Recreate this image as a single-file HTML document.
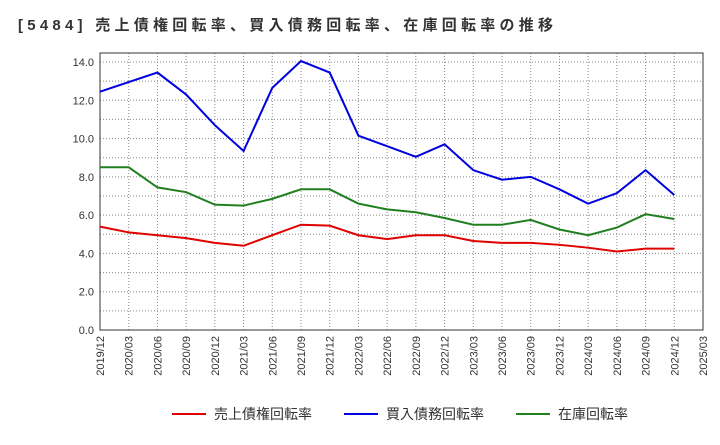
<!DOCTYPE html>
<html><head><meta charset="utf-8"><style>
body{margin:0;background:#fff;font-family:"Liberation Sans","Noto Sans CJK JP",sans-serif}
</style></head><body>
<svg id="c" width="720" height="440" xmlns="http://www.w3.org/2000/svg"></svg>
<script>
const categories=["2019/12","2020/03","2020/06","2020/09","2020/12","2021/03","2021/06","2021/09","2021/12","2022/03","2022/06","2022/09","2022/12","2023/03","2023/06","2023/09","2023/12","2024/03","2024/06","2024/09","2024/12","2025/03"];
const yTicks=[0,2,4,6,8,10,12,14];
const yTickLabels=["0.0","2.0","4.0","6.0","8.0","10.0","12.0","14.0"];
const seriesNames=["売上債権回転率","買入債務回転率","在庫回転率"];
const seriesColors=["#e00000","#0000e0","#208020"];
const redValues=[5.4,5.1,4.95,4.8,4.55,4.4,4.95,5.5,5.45,4.95,4.75,4.95,4.95,4.65,4.55,4.55,4.45,4.3,4.1,4.25,4.25];
const blueValues=[12.45,12.95,13.45,12.3,10.7,9.35,12.65,14.05,13.45,10.15,9.6,9.05,9.7,8.35,7.85,8.0,7.35,6.6,7.15,8.35,7.05];
const greenValues=[8.5,8.5,7.45,7.2,6.55,6.5,6.85,7.35,7.35,6.6,6.3,6.15,5.85,5.5,5.5,5.75,5.25,4.95,5.35,6.05,5.8];
const svg=document.getElementById('c');const NS="http://www.w3.org/2000/svg";
const L=100,R=703,T=53,B=330,yMax=14.47;
const x=i=>L+(R-L)*i/(categories.length-1);
const y=v=>B-(B-T)*v/yMax;
function mk(t,a,p){const e=document.createElementNS(NS,t);for(const k in a)e.setAttribute(k,a[k]);(p||svg).appendChild(e);return e;}
let t=mk('text',{x:18,y:30,'font-size':15,'font-weight':'bold',fill:'#333',textLength:535,lengthAdjust:'spacing'});t.textContent="[5484]  売上債権回転率、買入債務回転率、在庫回転率の推移";

for(let i=0;i<categories.length;i++){let g=mk('line',{x1:x(i),x2:x(i),y1:T,y2:B,stroke:'#888','stroke-dasharray':'1,2','stroke-width':1});

let l=mk('text',{x:0,y:0,'font-size':11,fill:'#333','text-anchor':'end',transform:`translate(${x(i)+4},${B+6}) rotate(-90)`});l.textContent=categories[i];
}
for(let v=1;v<=14;v++){let g=mk('line',{x1:L,x2:R,y1:y(v),y2:y(v),stroke:'#888','stroke-dasharray':'1,2','stroke-width':1});
}
yTicks.forEach((v,i)=>{let l=mk('text',{x:L-6,y:y(v)+4,'font-size':11,fill:'#333','text-anchor':'end'});l.textContent=yTickLabels[i];
});
let fr=mk('rect',{x:L,y:T,width:R-L,height:B-T,fill:'none',stroke:'#333'});
[redValues,blueValues,greenValues].forEach((vals,s)=>{let p=mk('polyline',{points:vals.map((v,i)=>x(i)+','+y(v)).join(' '),fill:'none',stroke:seriesColors[s],'stroke-width':2});
});
const lx=[172,344,516];
seriesNames.forEach((n,s)=>{let g=mk('g',{});
mk('line',{x1:lx[s],x2:lx[s]+34,y1:414,y2:414,stroke:seriesColors[s],'stroke-width':2},g);
let l=mk('text',{x:lx[s]+42,y:419,'font-size':14,fill:'#333'},g);l.textContent=n;});
</script></body></html>
